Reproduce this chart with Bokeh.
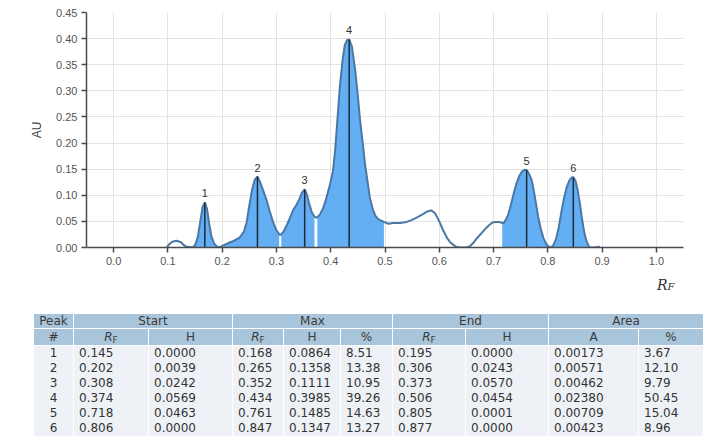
import numpy as np
from bokeh.plotting import figure
from bokeh.models import ColumnDataSource, Div, FixedTicker, NumeralTickFormatter
from bokeh.layouts import column
from bokeh.embed import file_html
from bokeh.resources import INLINE
from bokeh.core.properties import value

# ---------------- data ----------------
curve_rf = [0.098, 0.102, 0.108, 0.116, 0.124, 0.130, 0.135, 0.141, 0.145, 0.150,
            0.155, 0.160, 0.164, 0.168, 0.172, 0.176, 0.180, 0.185, 0.190, 0.195,
            0.202, 0.208, 0.215, 0.222, 0.232, 0.240, 0.245, 0.250, 0.255, 0.260,
            0.265, 0.270, 0.276, 0.282, 0.288, 0.294, 0.300, 0.306, 0.308, 0.314,
            0.320, 0.325, 0.331, 0.337, 0.342, 0.347, 0.352, 0.356, 0.360, 0.365,
            0.370, 0.374, 0.380, 0.386, 0.392, 0.398, 0.404, 0.408, 0.412, 0.417,
            0.422, 0.426, 0.430, 0.434, 0.439, 0.445, 0.450, 0.454, 0.459, 0.463,
            0.468, 0.472, 0.477, 0.482, 0.488, 0.494, 0.498, 0.506, 0.515, 0.528,
            0.540, 0.550, 0.560, 0.570, 0.578, 0.585, 0.592, 0.600, 0.607, 0.614,
            0.620, 0.626, 0.632, 0.640, 0.650, 0.656, 0.662, 0.668, 0.674, 0.680,
            0.686, 0.692, 0.698, 0.704, 0.710, 0.716, 0.718, 0.722, 0.727, 0.732,
            0.737, 0.742, 0.747, 0.752, 0.757, 0.761, 0.765, 0.770, 0.774, 0.778,
            0.782, 0.787, 0.792, 0.797, 0.801, 0.805, 0.806, 0.810, 0.815, 0.820,
            0.825, 0.830, 0.835, 0.840, 0.844, 0.847, 0.851, 0.855, 0.859, 0.863,
            0.867, 0.871, 0.875, 0.877, 0.885, 0.893, 0.895]
curve_au = [0.000, 0.006, 0.011, 0.013, 0.010, 0.004, 0.001, 0.001, 0.000, 0.004,
            0.020, 0.052, 0.078, 0.0864, 0.074, 0.046, 0.022, 0.008, 0.002, 0.000,
            0.0039, 0.007, 0.010, 0.013, 0.019, 0.030, 0.048, 0.080, 0.110, 0.130,
            0.1358, 0.125, 0.108, 0.090, 0.068, 0.048, 0.033, 0.0243, 0.0242, 0.032,
            0.045, 0.057, 0.072, 0.082, 0.092, 0.105, 0.1111, 0.102, 0.085, 0.068,
            0.059, 0.0569, 0.063, 0.075, 0.095, 0.118, 0.145, 0.185, 0.240, 0.310,
            0.360, 0.388, 0.397, 0.3985, 0.385, 0.340, 0.290, 0.244, 0.200, 0.161,
            0.125, 0.096, 0.075, 0.061, 0.054, 0.051, 0.049, 0.0454, 0.047, 0.047,
            0.049, 0.053, 0.058, 0.064, 0.069, 0.071, 0.066, 0.050, 0.033, 0.019,
            0.010, 0.005, 0.001, 0.000, 0.000, 0.002, 0.008, 0.016, 0.023, 0.030,
            0.037, 0.043, 0.048, 0.049, 0.049, 0.047, 0.0463, 0.052, 0.063, 0.082,
            0.103, 0.122, 0.136, 0.145, 0.149, 0.1485, 0.142, 0.130, 0.110, 0.085,
            0.060, 0.036, 0.018, 0.007, 0.002, 0.0001, 0.000, 0.004, 0.016, 0.038,
            0.068, 0.095, 0.116, 0.129, 0.134, 0.1347, 0.128, 0.110, 0.085, 0.055,
            0.030, 0.013, 0.003, 0.000, 0.000, 0.001, 0.003]

# shaded peak bands as seen in the plot
band_lo = [0.145, 0.202, 0.308, 0.374, 0.716, 0.806]
band_hi = [0.195, 0.306, 0.373, 0.498, 0.805, 0.877]

# result table
peak_no = [1, 2, 3, 4, 5, 6]
start_rf = [0.145, 0.202, 0.308, 0.374, 0.718, 0.806]
start_h = [0.0000, 0.0039, 0.0242, 0.0569, 0.0463, 0.0000]
max_rf = [0.168, 0.265, 0.352, 0.434, 0.761, 0.847]
max_h = [0.0864, 0.1358, 0.1111, 0.3985, 0.1485, 0.1347]
max_pct = [8.51, 13.38, 10.95, 39.26, 14.63, 13.27]
end_rf = [0.195, 0.306, 0.373, 0.506, 0.805, 0.877]
end_h = [0.0000, 0.0243, 0.0570, 0.0454, 0.0001, 0.0000]
area_a = [0.00173, 0.00571, 0.00462, 0.02380, 0.00709, 0.00423]
area_pct = [3.67, 12.10, 9.79, 50.45, 15.04, 8.96]

x_ticks = [0.0, 0.1, 0.2, 0.3, 0.4, 0.5, 0.6, 0.7, 0.8, 0.9, 1.0]
y_ticks = [0.0, 0.05, 0.10, 0.15, 0.20, 0.25, 0.30, 0.35, 0.40, 0.45]

# ---------------- chart ----------------
FILL = "#64aef4"
LINE = "#4a78a6"
AXIS = "#4a4a4a"
FONT = "Liberation Sans"

p = figure(width=704, height=272, x_range=(-0.05, 1.05), y_range=(0, 0.45),
           output_backend="svg", toolbar_location=None,
           min_border_left=86, min_border_top=12, min_border_right=21, min_border_bottom=25)
p.outline_line_color = None
p.background_fill_color = "white"

rf = np.array(curve_rf)
au = np.array(curve_au)

for lo, hi in zip(band_lo, band_hi):
    m = (rf >= lo - 1e-9) & (rf <= hi + 1e-9)
    p.varea(x=rf[m], y1=np.zeros(m.sum()), y2=au[m], fill_color=FILL, fill_alpha=1.0)

# white separators between touching bands
sx, sy0, sy1 = [], [], []
for i in range(len(band_lo) - 1):
    if band_lo[i + 1] - band_hi[i] < 0.01:
        xm = (band_lo[i + 1] + band_hi[i]) / 2
        yv = float(np.interp(xm, rf, au))
        if yv > 0.002:
            sx.append(xm); sy0.append(0.0); sy1.append(yv)
p.segment(x0=sx, y0=sy0, x1=sx, y1=sy1, line_color="white", line_width=2)

p.line(rf, au, line_color=LINE, line_width=2)

p.segment(x0=max_rf, y0=[0] * len(max_rf), x1=max_rf, y1=max_h, line_color="#1c2b3a", line_width=1.5)

lab_src = ColumnDataSource(dict(x=max_rf, y=max_h, t=[str(n) for n in peak_no]))
p.text(x="x", y="y", text="t", source=lab_src, text_align="center", text_baseline="bottom",
       y_offset=-5, text_font=value(FONT), text_font_size="11px", text_color="#333333")

for ax in (p.xaxis, p.yaxis):
    ax.axis_line_color = AXIS
    ax.axis_line_width = 1.5
    ax.major_tick_line_color = AXIS
    ax.major_tick_line_width = 1.5
    ax.major_tick_out = 5
    ax.major_tick_in = 0
    ax.minor_tick_line_color = None
    ax.major_label_text_font = FONT
    ax.major_label_text_font_size = "11px"
    ax.major_label_text_color = "#555555"

p.xaxis.ticker = FixedTicker(ticks=x_ticks)
p.xaxis.formatter = NumeralTickFormatter(format="0.0")
p.yaxis.ticker = FixedTicker(ticks=y_ticks)
p.yaxis.formatter = NumeralTickFormatter(format="0.00")
p.xaxis.major_label_standoff = 4
p.yaxis.major_label_standoff = 4
p.yaxis.axis_label = "AU"
p.yaxis.axis_label_text_font = FONT
p.yaxis.axis_label_text_font_size = "12px"
p.yaxis.axis_label_text_font_style = "normal"
p.yaxis.axis_label_text_color = "#444444"
p.yaxis.axis_label_standoff = 9

p.xgrid.ticker = FixedTicker(ticks=x_ticks)
p.ygrid.ticker = FixedTicker(ticks=y_ticks)
p.xgrid.grid_line_color = "#e3e3e3"
p.ygrid.grid_line_color = "#e3e3e3"

# x-axis title (R with small F) placed at the right end under the axis
rf_title = Div(
    text=("<div style=\"padding:5px 0 0 657px;font-family:'DejaVu Serif';font-style:italic;"
          "font-size:14px;line-height:16px;color:#333;white-space:nowrap\">R"
          "<span style='font-size:10px'>F</span></div>"),
    width=704, height=28, margin=(0, 0, 0, 0))

# ---------------- table ----------------
col_w = [40, 75, 84, 51, 57, 52, 73, 83, 90, 65]
RF_H = "<i>R</i><sub style='font-size:9px'>F</sub>"
css = """
<style>
table.r{border-collapse:collapse;table-layout:fixed;font-family:'DejaVu Sans';font-size:12px;
color:#333;margin:13px 0 0 33px;}
table.r th{background:#a9c5db;font-weight:normal;border:1px solid #fff;padding:0;text-align:center;
line-height:13px;color:#3a3a3a}
table.r tr.h1 th{height:15px}
table.r tr.h2 th{height:17px}
table.r td{background:#eef2f6;border-left:1px solid #fff;border-right:1px solid #fff;padding:0 0 0 5px;
height:15px;line-height:14px;text-align:left;white-space:nowrap}
table.r td.c{text-align:center;padding:0}
sub{vertical-align:-2px;line-height:0}
</style>
"""
html = css + "<table class='r'><colgroup>" + "".join(f"<col style='width:{w}px'>" for w in col_w) + "</colgroup>"
html += ("<tr class='h1'><th>Peak</th><th colspan='2'>Start</th><th colspan='3'>Max</th>"
         "<th colspan='2'>End</th><th colspan='2'>Area</th></tr>")
html += (f"<tr class='h2'><th>#</th><th>{RF_H}</th><th>H</th><th>{RF_H}</th><th>H</th><th>%</th>"
         f"<th>{RF_H}</th><th>H</th><th>A</th><th>%</th></tr>")
for i in range(len(peak_no)):
    html += (f"<tr><td class='c'>{peak_no[i]}</td><td>{start_rf[i]:.3f}</td><td>{start_h[i]:.4f}</td>"
             f"<td>{max_rf[i]:.3f}</td><td>{max_h[i]:.4f}</td><td>{max_pct[i]:.2f}</td>"
             f"<td>{end_rf[i]:.3f}</td><td>{end_h[i]:.4f}</td><td>{area_a[i]:.5f}</td>"
             f"<td>{area_pct[i]:.2f}</td></tr>")
html += "</table>"

table_div = Div(text=html, width=704, height=144, margin=(0, 0, 0, 0))

layout = column(p, rf_title, table_div, spacing=0)
open("out.html", "w").write(file_html(layout, INLINE))
